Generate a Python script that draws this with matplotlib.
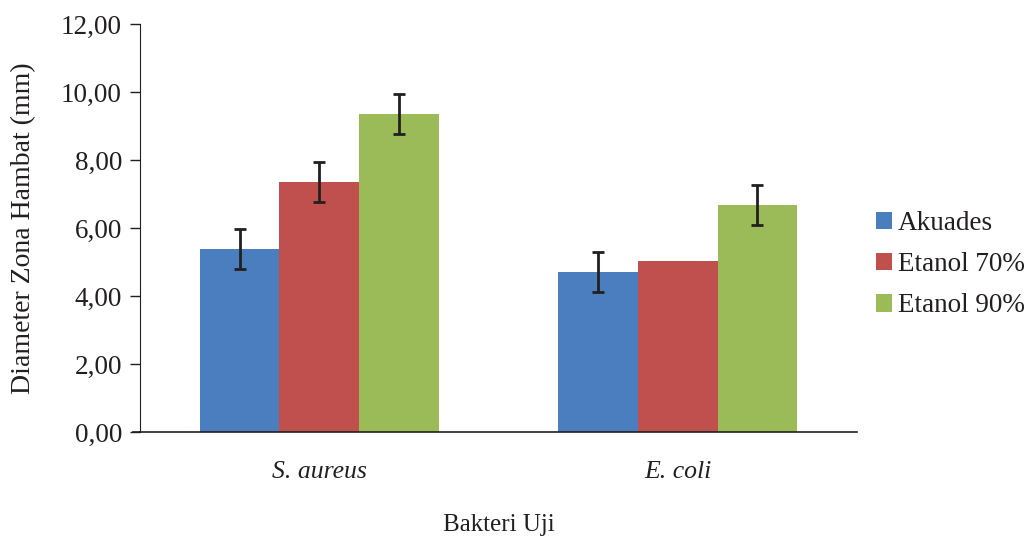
import numpy as np
import matplotlib.pyplot as plt

# data
categories = ['S. aureus', 'E. coli']
series = ['Akuades', 'Etanol 70%', 'Etanol 90%']
akuades = [5.38, 4.71]
etanol70 = [7.35, 5.03]
etanol90 = [9.35, 6.68]
err_akuades = [0.59, 0.59]
err_etanol70 = [0.59, None]
err_etanol90 = [0.59, 0.59]
yticks = [0, 2, 4, 6, 8, 10, 12]

COLORS = ['#4a7ebf', '#c0504d', '#9bbb59']
INK = '#231f20'

plt.rcParams['font.family'] = ['Liberation Serif', 'DejaVu Serif']

fig = plt.figure(figsize=(10.33, 5.41), dpi=100)
ax = fig.add_axes([0.1355, 0.2015, 0.6941, 0.7541])

x = np.arange(len(categories))
width = 0.222
values = [akuades, etanol70, etanol90]
errors = [err_akuades, err_etanol70, err_etanol90]
for i, (vals, errs, name) in enumerate(zip(values, errors, series)):
    pos = x + (i - 1) * width
    ax.bar(pos, vals, width=width, color=COLORS[i], label=name, zorder=2)
    for p, v, e in zip(pos, vals, errs):
        if e is None:
            continue
        ax.errorbar(p, v, yerr=e, fmt='none', ecolor=INK, elinewidth=2,
                    capsize=4.3, capthick=2, zorder=3)

ax.set_xlim(-0.5, 1.5)
ax.set_ylim(0, 12)
ax.set_yticks(yticks)
ax.set_yticklabels([f"{t:.2f}".replace('.', ',') for t in yticks], fontsize=19.5)
ax.set_xticks(x)
ax.set_xticklabels(categories, fontsize=18.5, style='italic')
ax.tick_params(axis='x', length=0, pad=21, colors=INK)
ax.tick_params(axis='y', length=7, width=1, direction='out', pad=6, colors=INK)

for side in ('top', 'right'):
    ax.spines[side].set_visible(False)
ax.spines['left'].set_color(INK)
ax.spines['bottom'].set_color(INK)
ax.spines['bottom'].set_linewidth(1.2)
# bottom axis line reaches out to the zero tick
ax.plot([-0.5 - 7 / 358.5, -0.5], [0, 0], color=INK, lw=1.2,
        clip_on=False, transform=ax.transData)

ax.set_xlabel('Bakteri Uji', fontsize=18, labelpad=22, color=INK)
ax.set_ylabel('Diameter Zona Hambat (mm)', fontsize=20, labelpad=18, color=INK)

leg = ax.legend(loc='center left', bbox_to_anchor=(1.0, 0.41), frameon=False,
                fontsize=19.5, handlelength=0.6, handleheight=0.6,
                handletextpad=0.2, labelspacing=0.6, borderaxespad=0.3)
for t in leg.get_texts():
    t.set_color(INK)

fig.savefig('out.png', dpi=100)
